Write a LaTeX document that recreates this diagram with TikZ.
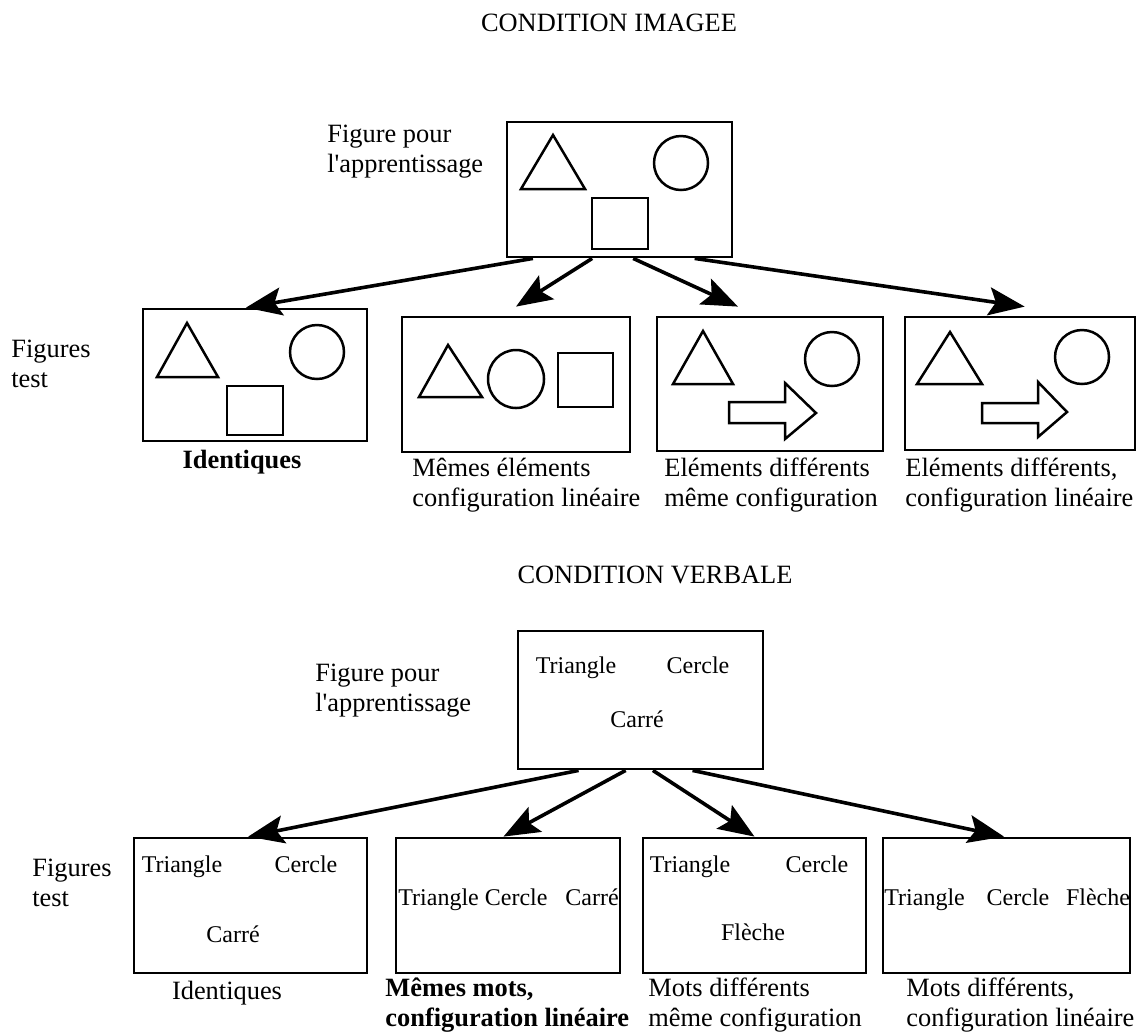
\documentclass[tikz,border=0pt]{standalone}
\usepackage{fontspec}
\setmainfont{Liberation Serif}
\usetikzlibrary{arrows.meta, fit, calc}

\begin{document}
\begin{tikzpicture}[
			x=0.5pt, y=-0.5pt,
			font=\fontsize{13.2}{15}\selectfont,
			every node/.style={inner sep=0pt},
			box/.style={draw, line width=1.4pt, inner sep=0pt},
			fig/.style={line width=1.25pt, line join=miter},
			word/.style={font=\fontsize{12}{14}\selectfont, anchor=base},
			note/.style={align=left, anchor=west},
			link/.style={-{Stealth[length=18pt, width=14pt, inset=3.5pt]}, line width=1.8pt}
			]
			
			\useasboundingbox (0,0) rectangle (1143,1035);
			
			% condition imagee
			\node (titleI) at (609,23) {CONDITION IMAGEE};
			\node[note] (learnItxt) at (327,152) {Figure pour\\l\textquotesingle apprentissage};
			\node[note] (testItxt) at (11,364) {Figures\\test};
			
			\node[box, fit={(507,122) (732,257)}] (learnI) {};
			\node[box, fit={(143,309) (367,441)}] (identI) {};
			\node[box, fit={(402,317) (630,452)}] (lineI) {};
			\node[box, fit={(657,317) (883,451)}] (diffI) {};
			\node[box, fit={(905,317) (1135,450)}] (difflineI) {};
			
			\draw[fig] (553,135) -- (585,189) -- (521,189) -- cycle;
			\draw[fig] (681,163) circle [radius=13.5pt];
			\draw[fig] (592,198) rectangle (648,249);
			
			\draw[fig] (187,323) -- (218,377) -- (157,377) -- cycle;
			\draw[fig] (317,352) circle [radius=13.5pt];
			\draw[fig] (227,386) rectangle (283,435);
			
			\draw[fig] (448,345) -- (482,397) -- (419,397) -- cycle;
			\draw[fig] (516,379) circle [x radius=14pt, y radius=14.5pt];
			\draw[fig] (558,353) rectangle (613,407);
			
			\draw[fig] (703,331) -- (733,384) -- (673,384) -- cycle;
			\draw[fig] (832,359) circle [radius=13.5pt];
			\draw[fig] (729,402) -- (785,402) -- (785,383) -- (816,413) -- (785,439) -- (785,423) -- (729,423) -- cycle;
			
			\draw[fig] (950,332) -- (982,384) -- (917,384) -- cycle;
			\draw[fig] (1082,357) circle [radius=13.5pt];
			\draw[fig] (982,403) -- (1038,403) -- (1038,382) -- (1067,412) -- (1038,437) -- (1038,423) -- (982,423) -- cycle;
			
			\draw[link] ($(learnI.south west)!.12!(learnI.south east)$) -- ($(identI.north west)!.46!(identI.north east)$);
			\draw[link] ($(learnI.south west)!.38!(learnI.south east)$) -- ($(lineI.north west)!.5!(lineI.north east)+(0,-9)$);
			\draw[link] ($(learnI.south west)!.56!(learnI.south east)$) -- ($(diffI.north west)!.36!(diffI.north east)+(0,-9)$);
			\draw[link] ($(learnI.south west)!.83!(learnI.south east)$) -- ($(difflineI.north west)!.52!(difflineI.north east)+(0,-9)$);
			
			\node[font=\fontsize{13.2}{15}\selectfont\bfseries] (identItxt) at (242,462) {Identiques};
			\node[note] (lineItxt) at (412,485) {Mêmes éléments\\configuration linéaire};
			\node[note] (diffItxt) at (664,485) {Eléments différents\\même configuration};
			\node[note] (difflineItxt) at (905,485) {Eléments différents,\\configuration linéaire};
			
			% condition verbale
			\node (titleV) at (655,575) {CONDITION VERBALE};
			\node[note] (learnVtxt) at (315,691) {Figure pour\\l\textquotesingle apprentissage};
			\node[note] (testVtxt) at (32,883) {Figures\\test};
			
			\node[box, fit={(518,631) (763,769)}] (learnV) {};
			\node[box, fit={(134,838) (367,973)}] (identV) {};
			\node[box, fit={(396,838) (620,973)}] (lineV) {};
			\node[box, fit={(643,838) (866,973)}] (diffV) {};
			\node[box, fit={(883,838) (1130,973)}] (difflineV) {};
			
			\node[word] (learnVa) at (576,673) {Triangle};
			\node[word] (learnVb) at (698,673) {Cercle};
			\node[word] (learnVc) at (637,727) {Carré};
			
			\node[word] (identVa) at (182,872) {Triangle};
			\node[word] (identVb) at (306,872) {Cercle};
			\node[word] (identVc) at (233,942) {Carré};
			
			\node[word, anchor=base west] (lineVa) at (398,905) {Triangle Cercle};
			\node[word] (lineVb) at (592,905) {Carré};
			
			\node[word] (diffVa) at (690,872) {Triangle};
			\node[word] (diffVb) at (817,872) {Cercle};
			\node[word] (diffVc) at (753,940) {Flèche};
			
			\node[word, anchor=base west] (difflineVa) at (884,905) {Triangle};
			\node[word] (difflineVb) at (1018,905) {Cercle};
			\node[word] (difflineVc) at (1098,905) {Flèche};
			
			\draw[link] ($(learnV.south west)!.25!(learnV.south east)$) -- ($(identV.north west)!.49!(identV.north east)$);
			\draw[link] ($(learnV.south west)!.44!(learnV.south east)$) -- ($(lineV.north west)!.48!(lineV.north east)$);
			\draw[link] ($(learnV.south west)!.55!(learnV.south east)$) -- ($(diffV.north west)!.5!(diffV.north east)$);
			\draw[link] ($(learnV.south west)!.71!(learnV.south east)$) -- ($(difflineV.north west)!.49!(difflineV.north east)$);
			
			\node (identVtxt) at (227,993) {Identiques};
			\node[note, font=\fontsize{13.2}{15}\selectfont\bfseries] (lineVtxt) at (385,1005) {Mêmes mots,\\configuration linéaire};
			\node[note] (diffVtxt) at (648,1005) {Mots différents\\même configuration};
			\node[note] (difflineVtxt) at (906,1005) {Mots différents,\\configuration linéaire};
			
			\end{tikzpicture}
\end{document}
